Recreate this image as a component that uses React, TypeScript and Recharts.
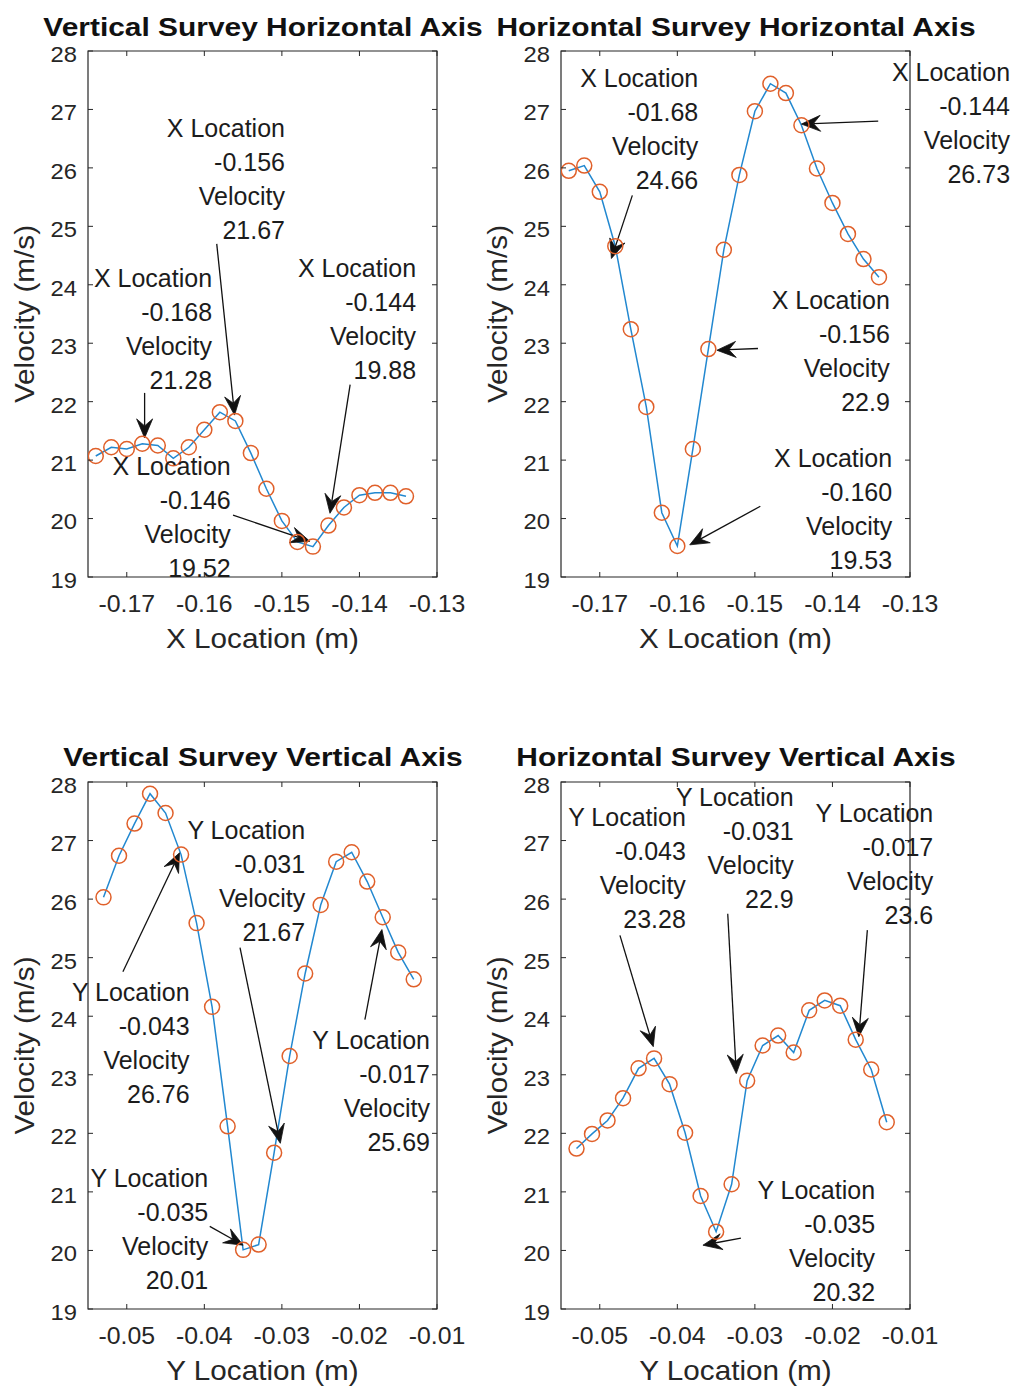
import React from 'react';
import { LineChart, Line, XAxis, YAxis, ReferenceLine, ReferenceDot, ReferenceArea } from 'recharts';

const FONT = '"Liberation Sans", Arial, Helvetica, sans-serif';
const INK = '#262626';
const TEXT = '#1c1c1c';
const BLUE = '#2288d0';
const ORANGE = '#e0602a';

// ---------- data ----------
const xLocations = [-0.174, -0.172, -0.170, -0.168, -0.166, -0.164, -0.162, -0.160, -0.158, -0.156, -0.154,
  -0.152, -0.150, -0.148, -0.146, -0.144, -0.142, -0.140, -0.138, -0.136, -0.134];
const yLocations = [-0.053, -0.051, -0.049, -0.047, -0.045, -0.043, -0.041, -0.039, -0.037, -0.035, -0.033,
  -0.031, -0.029, -0.027, -0.025, -0.023, -0.021, -0.019, -0.017, -0.015, -0.013];

const vsHorizontalVelocity = [21.07, 21.22, 21.19, 21.28, 21.25, 21.03, 21.22, 21.52, 21.82, 21.67, 21.12,
  20.51, 19.96, 19.60, 19.52, 19.88, 20.19, 20.40, 20.44, 20.44, 20.38];
const hsHorizontalVelocity = [25.95, 26.04, 25.59, 24.66, 23.24, 21.91, 20.10, 19.53, 21.19, 22.90, 24.60,
  25.88, 26.97, 27.44, 27.28, 26.73, 25.99, 25.40, 24.87, 24.44, 24.13];
const vsVerticalVelocity = [26.03, 26.74, 27.29, 27.80, 27.47, 26.76, 25.59, 24.16, 22.12, 20.01, 20.10,
  21.67, 23.32, 24.73, 25.90, 26.64, 26.80, 26.30, 25.69, 25.09, 24.63];
const hsVerticalVelocity = [21.74, 21.99, 22.22, 22.60, 23.11, 23.28, 22.84, 22.01, 20.93, 20.32, 21.13,
  22.90, 23.50, 23.67, 23.38, 24.10, 24.27, 24.18, 23.60, 23.09, 22.19];

const xTicks = [-0.17, -0.16, -0.15, -0.14, -0.13];
const yLocTicks = [-0.05, -0.04, -0.03, -0.02, -0.01];
const velocityTicks = [19, 20, 21, 22, 23, 24, 25, 26, 27, 28];
const xDomain = [-0.175, -0.13];
const yLocDomain = [-0.055, -0.01];
const velocityDomain = [19, 28];

const titles = [
  'Vertical Survey Horizontal Axis',
  'Horizontal Survey Horizontal Axis',
  'Vertical Survey Vertical Axis',
  'Horizontal Survey Vertical Axis',
];
const axisLabels = ['X Location (m)', 'X Location (m)', 'Y Location (m)', 'Y Location (m)'];

// annotations (data coordinates): text anchor = right edge / first line centre
const vsHorizontalNotes = [
  { lines: ['X Location', '-0.156', 'Velocity', '21.67'], text: [-0.1496, 26.68], tail: [-0.1584, 24.70], tip: [-0.1561, 21.77] },
  { lines: ['X Location', '-0.168', 'Velocity', '21.28'], text: [-0.1590, 24.12], tail: [-0.1677, 22.15], tip: [-0.1677, 21.38] },
  { lines: ['X Location', '-0.144', 'Velocity', '19.88'], text: [-0.1327, 24.29], tail: [-0.1412, 22.29], tip: [-0.1438, 20.09] },
  { lines: ['X Location', '-0.146', 'Velocity', '19.52'], text: [-0.1566, 20.90], tail: [-0.1563, 20.06], tip: [-0.1464, 19.61] },
];
const hsHorizontalNotes = [
  { lines: ['X Location', '-01.68', 'Velocity', '24.66'], text: [-0.1573, 27.53], tail: [-0.1658, 25.53], tip: [-0.1685, 24.45] },
  { lines: ['X Location', '-0.144', 'Velocity', '26.73'], text: [-0.1171, 27.64], tail: [-0.1341, 26.80], tip: [-0.1440, 26.75] },
  { lines: ['X Location', '-0.156', 'Velocity', '22.9'], text: [-0.1326, 23.74], tail: [-0.1496, 22.91], tip: [-0.1549, 22.88] },
  { lines: ['X Location', '-0.160', 'Velocity', '19.53'], text: [-0.1323, 21.04], tail: [-0.1493, 20.21], tip: [-0.1584, 19.55] },
];
const vsVerticalNotes = [
  { lines: ['Y Location', '-0.031', 'Velocity', '21.67'], text: [-0.0270, 27.18], tail: [-0.0354, 25.17], tip: [-0.0302, 21.83] },
  { lines: ['Y Location', '-0.043', 'Velocity', '26.76'], text: [-0.0419, 24.42], tail: [-0.0505, 24.76], tip: [-0.0432, 26.79] },
  { lines: ['Y Location', '-0.017', 'Velocity', '25.69'], text: [-0.0109, 23.60], tail: [-0.0193, 23.94], tip: [-0.0171, 25.48] },
  { lines: ['Y Location', '-0.035', 'Velocity', '20.01'], text: [-0.0395, 21.24], tail: [-0.0393, 20.41], tip: [-0.0350, 20.09] },
];
const hsVerticalNotes = [
  { lines: ['Y Location', '-0.043', 'Velocity', '23.28'], text: [-0.0389, 27.41], tail: [-0.0474, 25.38], tip: [-0.0431, 23.48] },
  { lines: ['Y Location', '-0.031', 'Velocity', '22.9'], text: [-0.0250, 27.74], tail: [-0.0335, 25.75], tip: [-0.0324, 23.02] },
  { lines: ['Y Location', '-0.017', 'Velocity', '23.6'], text: [-0.0070, 27.47], tail: [-0.0155, 25.47], tip: [-0.0166, 23.65] },
  { lines: ['Y Location', '-0.035', 'Velocity', '20.32'], text: [-0.0145, 21.03], tail: [-0.0318, 20.21], tip: [-0.0367, 20.09] },
];

// ---------- layout ----------
const LEFT_COL = { left: 0, width: 507, yAxisWidth: 88, marginRight: 70 };
const RIGHT_COL = { left: 470, width: 544, yAxisWidth: 91, marginRight: 104 };
const TOP_ROW = { top: 0, height: 697, marginTop: 51, xAxisHeight: 120, titleBaseline: 36 };
const BOTTOM_ROW = { top: 697, height: 697, marginTop: 85, xAxisHeight: 85, titleBaseline: 69 };

const panels = [
  { col: LEFT_COL, row: TOP_ROW, title: titles[0], xLabel: axisLabels[0], locs: xLocations, vel: vsHorizontalVelocity, dom: xDomain, ticks: xTicks, notes: vsHorizontalNotes },
  { col: RIGHT_COL, row: TOP_ROW, title: titles[1], xLabel: axisLabels[1], locs: xLocations, vel: hsHorizontalVelocity, dom: xDomain, ticks: xTicks, notes: hsHorizontalNotes },
  { col: LEFT_COL, row: BOTTOM_ROW, title: titles[2], xLabel: axisLabels[2], locs: yLocations, vel: vsVerticalVelocity, dom: yLocDomain, ticks: yLocTicks, notes: vsVerticalNotes },
  { col: RIGHT_COL, row: BOTTOM_ROW, title: titles[3], xLabel: axisLabels[3], locs: yLocations, vel: hsVerticalVelocity, dom: yLocDomain, ticks: yLocTicks, notes: hsVerticalNotes },
];

const TICK_LEN = 5;
const LINE_GAP = 34;

function Arrow(props: any) {
  const { x1, y1, x2, y2 } = props;
  if ([x1, y1, x2, y2].some((v) => typeof v !== 'number' || isNaN(v))) return null;
  const dx = x2 - x1;
  const dy = y2 - y1;
  const len = Math.hypot(dx, dy) || 1;
  const ux = dx / len;
  const uy = dy / len;
  const nx = -uy;
  const ny = ux;
  const L = 19;
  const W = 8;
  const N = 12;
  const bx = x2 - ux * N;
  const by = y2 - uy * N;
  const pts = [
    [x2, y2],
    [x2 - ux * L + nx * W, y2 - uy * L + ny * W],
    [bx, by],
    [x2 - ux * L - nx * W, y2 - uy * L - ny * W],
  ]
    .map((p) => `${p[0]},${p[1]}`)
    .join(' ');
  return (
    <g>
      <line x1={x1} y1={y1} x2={bx} y2={by} stroke="#111" strokeWidth={1.3} />
      <polygon points={pts} fill="#111" stroke="#111" strokeWidth={0.8} strokeLinejoin="miter" />
    </g>
  );
}

function NoteText({ cx, cy, lines }: any) {
  if (typeof cx !== 'number' || typeof cy !== 'number') return null;
  return (
    <g>
      {lines.map((t: string, i: number) => (
        <text key={i} x={cx} y={cy + i * LINE_GAP} dy="0.36em" textAnchor="end" fontSize={25} fontFamily={FONT} fill={TEXT}>
          {t}
        </text>
      ))}
    </g>
  );
}

function Panel({ cfg }: any) {
  const { col, row } = cfg;
  const data = cfg.locs.map((x: number, i: number) => ({ x, v: cfg.vel[i] }));
  const plotLeft = col.yAxisWidth;
  const plotRight = col.width - col.marginRight;
  const plotTop = row.marginTop;
  const plotBottom = row.height - row.xAxisHeight;
  const plotCenter = (plotLeft + plotRight) / 2;

  const XTick = (p: any) => {
    const { x, y, payload } = p;
    return (
      <g>
        <line x1={x} y1={plotBottom} x2={x} y2={plotBottom - TICK_LEN} stroke={INK} strokeWidth={1} />
        <line x1={x} y1={plotTop} x2={x} y2={plotTop + TICK_LEN} stroke={INK} strokeWidth={1} />
        <text transform={`translate(${x},${y + 19}) scale(1.08,1)`} dy="0.71em" textAnchor="middle" fontSize={23} fontFamily={FONT} fill={INK}>
          {Number(payload.value).toFixed(2)}
        </text>
      </g>
    );
  };
  const YTick = (p: any) => {
    const { x, y, payload } = p;
    return (
      <g>
        <line x1={plotLeft} y1={y} x2={plotLeft + TICK_LEN} y2={y} stroke={INK} strokeWidth={1} />
        <line x1={plotRight} y1={y} x2={plotRight - TICK_LEN} y2={y} stroke={INK} strokeWidth={1} />
        <text transform={`translate(${x - 11},${y + 3}) scale(1.08,1)`} dy="0.36em" textAnchor="end" fontSize={22} fontFamily={FONT} fill={INK}>
          {payload.value}
        </text>
      </g>
    );
  };

  const xLabel = () => (
    <text transform={`translate(${plotCenter},${plotBottom + 71}) scale(1.06,1)`} textAnchor="middle" fontSize={28} fontFamily={FONT} fill={INK}>
      {cfg.xLabel}
    </text>
  );
  const yLabelX = plotLeft - 54;
  const yLabelY = (plotTop + plotBottom) / 2;
  const yLabel = () => (
    <text transform={`translate(${yLabelX},${yLabelY}) rotate(-90) scale(1.06,1)`} textAnchor="middle" fontSize={28} fontFamily={FONT} fill={INK}>
      Velocity (m/s)
    </text>
  );

  return (
    <div style={{ position: 'absolute', left: col.left, top: row.top, width: col.width, height: row.height }}>
      <LineChart
        width={col.width}
        height={row.height}
        data={data}
        margin={{ top: row.marginTop, right: col.marginRight, bottom: 0, left: 0 }}
      >
        <XAxis
          type="number"
          dataKey="x"
          domain={cfg.dom}
          ticks={cfg.ticks}
          allowDataOverflow
          interval={0}
          height={row.xAxisHeight}
          tickSize={0}
          tickMargin={0}
          tickLine={false}
          axisLine={false}
          tick={XTick}
          label={xLabel}
        />
        <YAxis
          type="number"
          domain={velocityDomain}
          ticks={velocityTicks}
          allowDataOverflow
          interval={0}
          width={col.yAxisWidth}
          tickSize={0}
          tickMargin={0}
          tickLine={false}
          axisLine={false}
          tick={YTick}
          label={yLabel}
        />
        <ReferenceArea
          x1={cfg.dom[0]}
          x2={cfg.dom[1]}
          y1={velocityDomain[0]}
          y2={velocityDomain[1]}
          fill="none"
          fillOpacity={0}
          stroke={INK}
          strokeWidth={1.2}
          ifOverflow="visible"
        />
        <Line
          type="linear"
          dataKey="v"
          stroke={BLUE}
          strokeWidth={1.5}
          dot={{ r: 7.5, stroke: ORANGE, strokeWidth: 1.5, fill: 'none' }}
          activeDot={false}
          isAnimationActive={false}
        />
        {cfg.notes.map((n: any, i: number) => (
          <ReferenceLine
            key={`a${i}`}
            segment={[{ x: n.tail[0], y: n.tail[1] }, { x: n.tip[0], y: n.tip[1] }]}
            ifOverflow="visible"
            shape={(p: any) => <Arrow {...p} />}
          />
        ))}
        {cfg.notes.map((n: any, i: number) => (
          <ReferenceDot
            key={`t${i}`}
            x={n.text[0]}
            y={n.text[1]}
            r={1}
            ifOverflow="visible"
            shape={(p: any) => <NoteText cx={p.cx} cy={p.cy} lines={n.lines} />}
          />
        ))}
      </LineChart>
      <div
        style={{
          position: 'absolute',
          left: plotCenter - 300,
          width: 600,
          top: row.titleBaseline - 21,
          height: 24,
          textAlign: 'center',
          fontFamily: FONT,
          fontWeight: 'bold',
          fontSize: 26,
          lineHeight: '24px',
          color: '#111',
          whiteSpace: 'nowrap',
          transform: 'scaleX(1.15)',
          pointerEvents: 'none',
        }}
      >
        {cfg.title}
      </div>
    </div>
  );
}

export default function App() {
  return (
    <div style={{ position: 'absolute', left: 0, top: 0, width: 1014, height: 1395, overflow: 'hidden', background: '#fff' }}>
      {panels.map((p, i) => (
        <Panel key={i} cfg={p} />
      ))}
    </div>
  );
}
